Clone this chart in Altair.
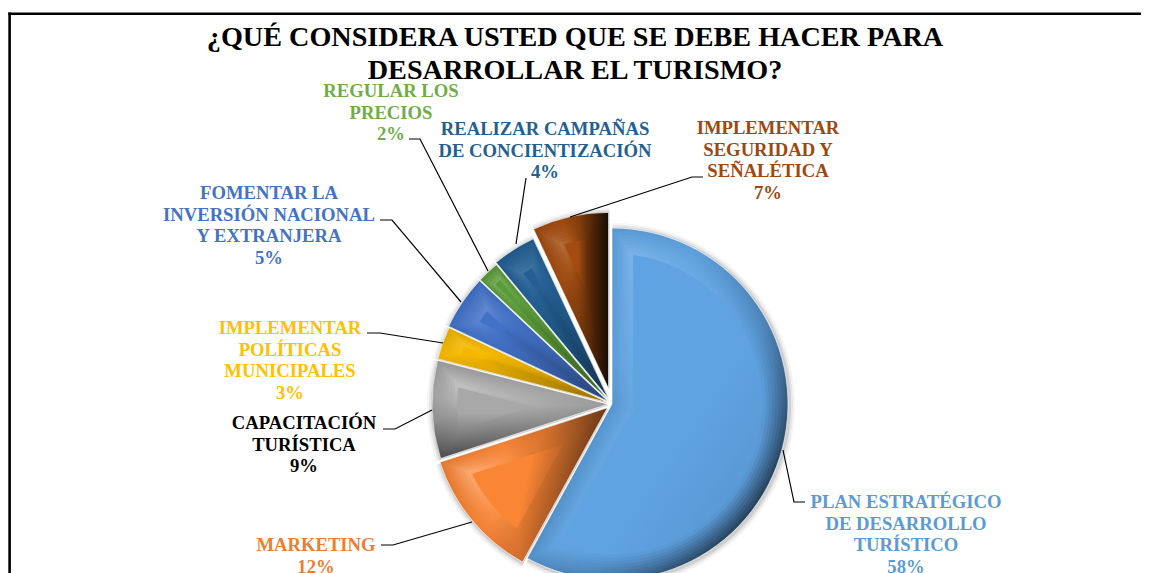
import math
import altair as alt
import pandas as pd

TITLE = ["¿QUÉ CONSIDERA USTED QUE SE DEBE HACER PARA", "DESARROLLAR EL TURISMO?"]
names = [
    "PLAN ESTRATÉGICO\nDE DESARROLLO\nTURÍSTICO",
    "MARKETING",
    "CAPACITACIÓN\nTURÍSTICA",
    "IMPLEMENTAR\nPOLÍTICAS\nMUNICIPALES",
    "FOMENTAR LA\nINVERSIÓN NACIONAL\nY EXTRANJERA",
    "REGULAR LOS\nPRECIOS",
    "REALIZAR CAMPAÑAS\nDE CONCIENTIZACIÓN",
    "IMPLEMENTAR\nSEGURIDAD  Y\nSEÑALÉTICA",
]
values = [58, 12, 9, 3, 5, 2, 4, 7]
slice_colors = ["#5FA3E2", "#FA8535", "#A8A8A8", "#F5B800", "#4272C8", "#5A9A38", "#235F94", "#A34C10"]
text_colors = ["#5B9BD5", "#ED7D31", "#000000", "#FFC000", "#4472C4", "#70AD47", "#255E91", "#9E480E"]

# layout (page pixels minus the 8px margin)
W, H = 1133, 565
CX, CY, R = 604, 396, 176
explode = [0, 6, 4, 4, 5, 5, 7, 16]
label_xy = [(898, 494), (308, 537), (296, 415), (282, 320), (261, 185), (383, 83), (537, 121), (760, 120)]
leaders = [
    [(797, 494), (786, 494), (775, 442)],
    [(373, 537), (385, 537), (464, 514)],
    [(375, 421), (387, 421), (424, 402)],
    [(359, 325), (372, 325), (435, 335)],
    [(372, 212), (384, 212), (453, 294)],
    [(401, 131), (412, 131), (480, 263)],
    [(518, 170), (508, 236)],
    [(695, 169), (684, 169), (562, 209)],
]
# bevel styling per slice: light direction, darkness of the rim edge and of its inner side, highlight
light_dir = [(0, 0, 1, 1), (0, 0.3, 1, 0.5), (0, 0, 0, 1), (0, 0, 0, 1), (0, 0, 1, 1), (0, 0, 1, 1), (0, 0, 1, 1), (0, 0, 1, 0)]
edge_dark = [0.85, 0.7, 0.55, 0.4, 0.4, 0.4, 0.45, 0.85]
inner_dark = [0.12, 0.4, 0.25, 0.2, 0.2, 0.2, 0.2, 0.5]
highlight = [0.25, 0.3, 0.3, 0.15, 0.2, 0.2, 0.15, 0.2]


def to_rgb(h):
    return [int(h[i:i + 2], 16) for i in (1, 3, 5)]


def to_hex(c):
    return "#" + "".join(f"{max(0, min(255, round(v))):02X}" for v in c)


def mix(a, b, t):
    a, b = to_rgb(a), to_rgb(b)
    return to_hex([x + (y - x) * t for x, y in zip(a, b)])


def wedge(row, dx, dy, outer, inner=0.0, pad=0.0, **style):
    return alt.Chart(row).mark_arc(outerRadius=outer, innerRadius=inner, padAngle=pad, **style).encode(
        theta=alt.Theta("start:Q", scale=alt.Scale(domain=[0, 100], range=[0, 2 * math.pi]), stack=None),
        theta2="end:Q",
        x=alt.value(CX + dx),
        y=alt.value(CY + dy),
    )


layers = []
starts = [sum(values[:i]) for i in range(len(values))]
geom = []
for v, s, e in zip(values, starts, explode):
    mid = (s + v / 2) / 100 * 2 * math.pi
    half = v / 100 * math.pi
    row = pd.DataFrame({"start": [s], "end": [s + v]})
    geom.append((row, e * math.sin(mid), -e * math.cos(mid), half))

# soft shadow behind the pie
for row, dx, dy, half in geom:
    for grow, op in [(6, 0.04), (4, 0.06), (2, 0.10)]:
        layers.append(wedge(row, dx + 1, dy + 1, R + grow, fill="#000000", opacity=op))

N = 8
for i, ((row, dx, dy, half), col) in enumerate(zip(geom, slice_colors)):
    halfwidth = R * math.sin(min(half, math.pi / 2))
    dmax = min(17, 0.5 * halfwidth)
    rmax = min(22, 1.1 * halfwidth)
    x1, y1, x2, y2 = light_dir[i]
    for k in range(N):
        t = k / (N - 1)
        d, r = dmax * t, rmax * t
        tl = mix(mix(col, "#000000", 0.1), mix(col, "#FFFFFF", highlight[i]), t)
        br = mix(mix(col, "#000000", edge_dark[i]), mix(col, "#000000", inner_dark[i]), t)
        grad = {
            "gradient": "linear", "x1": x1, "y1": y1, "x2": x2, "y2": y2,
            "stops": [{"offset": 0, "color": tl}, {"offset": 0.35, "color": mix(tl, col, 0.7)},
                      {"offset": 0.6, "color": mix(col, br, 0.25)}, {"offset": 1, "color": br}],
        }
        outer = R - r
        if k == 0:
            layers.append(wedge(row, dx, dy, outer, fill=grad, stroke="#FFFFFF", strokeWidth=0.6))
        else:
            inner = d / math.sin(half)
            pad = 2 * d / math.hypot(inner, outer)
            layers.append(wedge(row, dx, dy, outer, inner, pad, fill=grad))
    d = dmax * 1.25
    outer = R - rmax * 1.15
    inner = d / math.sin(half)
    if inner < outer:
        face = {
            "gradient": "linear", "x1": x1, "y1": y1, "x2": x2, "y2": y2,
            "stops": [{"offset": 0, "color": col}, {"offset": 0.6, "color": col},
                      {"offset": 1, "color": mix(col, "#000000", inner_dark[i] * 0.8)}],
        }
        layers.append(wedge(row, dx, dy, outer, inner, 2 * d / math.hypot(inner, outer), fill=face))

# leader lines
for pts in leaders:
    df = pd.DataFrame({"x": [p[0] for p in pts], "y": [p[1] for p in pts], "o": range(len(pts))})
    layers.append(alt.Chart(df).mark_line(color="#000000", strokeWidth=1.2).encode(
        x=alt.X("x:Q", scale=None), y=alt.Y("y:Q", scale=None), order="o:Q"))

# data labels
for name, v, col, (lx, ly) in zip(names, values, text_colors, label_xy):
    df = pd.DataFrame({"t": [f"{name}\n{v}%"]})
    layers.append(alt.Chart(df).mark_text(
        font="Liberation Serif", fontWeight="bold", fontSize=18.67, lineBreak="\n", lineHeight=21.7,
        align="center", baseline="middle", color=col,
    ).encode(text="t:N", x=alt.value(lx), y=alt.value(ly)))

# frame
layers.append(alt.Chart(pd.DataFrame({"a": [0]})).mark_rule(color="#000000", strokeWidth=2.6).encode(
    x=alt.value(0.3), x2=alt.value(W), y=alt.value(5.8)))
layers.append(alt.Chart(pd.DataFrame({"a": [0]})).mark_rule(color="#000000", strokeWidth=2.6).encode(
    x=alt.value(1.6), y=alt.value(4.5), y2=alt.value(H)))

# title
layers.append(alt.Chart(pd.DataFrame({"t": ["\n".join(TITLE)]})).mark_text(
    font="Liberation Serif", fontWeight="bold", fontSize=28.2, lineBreak="\n", lineHeight=33,
    align="center", baseline="middle", color="#000000",
).encode(text="t:N", x=alt.value(567), y=alt.value(30)))

chart = alt.layer(*layers).properties(
    width=W, height=H, autosize=alt.AutoSizeParams(type="none"), padding=0, background="#FFFFFF"
).configure_view(stroke=None)

chart.save("out.html", embed_options={"renderer": "svg", "actions": False})
